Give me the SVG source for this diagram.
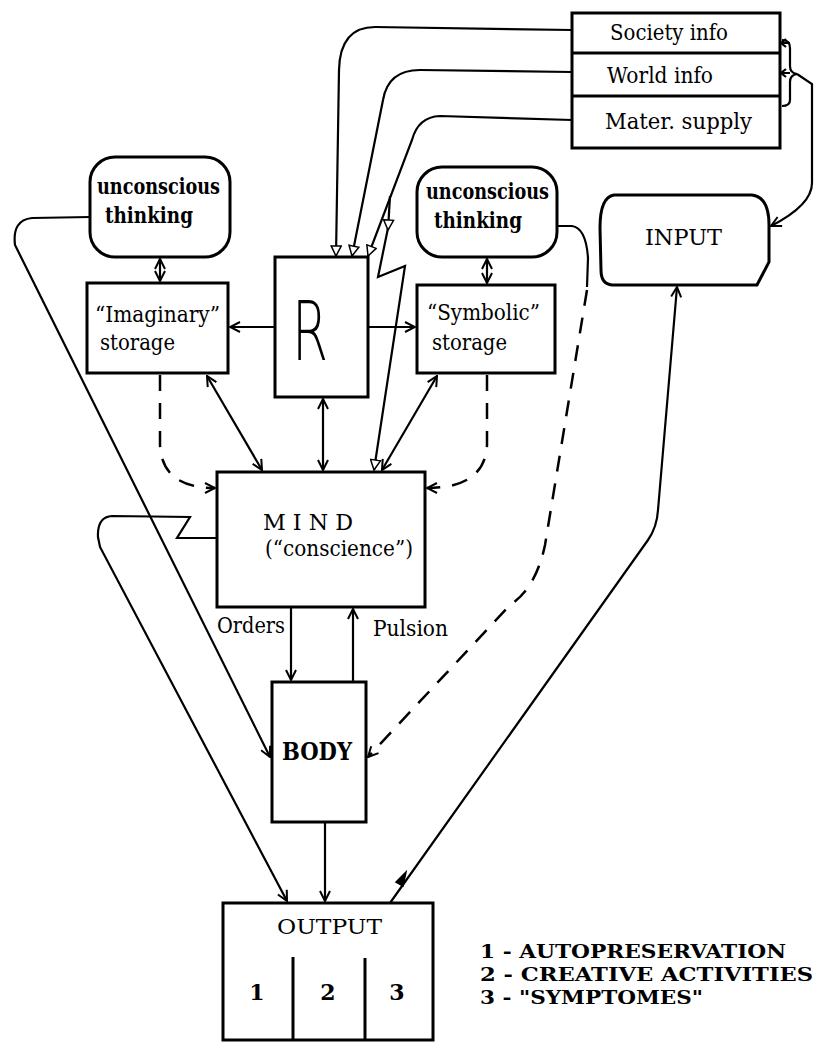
<svg xmlns="http://www.w3.org/2000/svg" width="815" height="1043" viewBox="0 0 815 1043">
<style>
.box{fill:none;stroke:#000;stroke-width:3}
.ln{fill:none;stroke:#000;stroke-width:2.2}
.dash{fill:none;stroke:#000;stroke-width:2.5;stroke-dasharray:16 12}
.t{font-family:"DejaVu Serif","Liberation Serif",serif;font-size:22px;fill:#000}
.b{font-weight:bold}
.c{text-anchor:middle}
</style>
<defs>
<marker id="v" viewBox="0 0 12 12" refX="11" refY="6" markerWidth="12" markerHeight="12" markerUnits="userSpaceOnUse" orient="auto-start-reverse">
<path d="M1,1 L11,6 L1,11" fill="none" stroke="#000" stroke-width="2"/>
</marker>
<marker id="tri" viewBox="0 0 12 12" refX="11" refY="6" markerWidth="12" markerHeight="12" markerUnits="userSpaceOnUse" orient="auto">
<path d="M1,1 L11,6 L1,11 Z" fill="#fff" stroke="#000" stroke-width="1.5"/>
</marker>
</defs>
<rect width="815" height="1043" fill="#fff"/>

<g id="connectors">
<path class="ln" d="M572,30 L375,27 Q340,27 339,70 L336,256" marker-end="url(#tri)"/>
<path class="ln" d="M572,72 L420,70 Q388,70 383,100 L352,256" marker-end="url(#tri)"/>
<path class="ln" d="M572,120 L440,116 Q418,117 412,140 L368,256" marker-end="url(#tri)"/>
<path class="ln" d="M390,196 L388,230" marker-end="url(#tri)"/>
<path class="ln" d="M388,228 L378,277 L405,266 L374,470" marker-end="url(#tri)"/>
<path class="ln" d="M782,40 Q790,40 790,48 L790,66 Q790,73 797,74 Q790,75 790,82 L790,100 Q790,106 782,106"/>
<path class="ln" d="M790,43 L782,43 M786,39 L781,43 L786,47 M790,73 L782,73 M786,69 L781,73 L786,77"/>
<path class="ln" d="M797,74 L812,84 L812,183 Q812,205 771,226" marker-end="url(#v)"/>
<path class="ln" d="M160,259 L160,281" marker-start="url(#v)" marker-end="url(#v)"/>
<path class="ln" d="M487,259 L487,283" marker-start="url(#v)" marker-end="url(#v)"/>
<path class="ln" d="M275,327 L230,327" marker-end="url(#v)"/>
<path class="ln" d="M368,327 L415,327" marker-end="url(#v)"/>
<path class="ln" d="M207,376 L262,470" marker-start="url(#v)" marker-end="url(#v)"/>
<path class="ln" d="M323,399 L323,470" marker-start="url(#v)" marker-end="url(#v)"/>
<path class="ln" d="M437,376 L382,470" marker-start="url(#v)" marker-end="url(#v)"/>
<path class="dash" d="M160,375 L160,445 Q162,488 215,488" marker-end="url(#v)"/>
<path class="dash" d="M487,375 L487,445 Q485,488 427,488" marker-end="url(#v)"/>
<path class="ln" d="M90,217 L32,218 Q12,220 15,245 L270,757" marker-end="url(#v)"/>
<path class="ln" d="M217,538 L177,538 L190,517 L112,516 Q97,517 98,537 L100,547 L287,901" marker-end="url(#v)"/>
<path class="ln" d="M557,226 L572,226 Q586,228 588,258 L587,287"/>
<path class="dash" d="M587,290 L545,545 Q536,588 510,605 L368,757" marker-end="url(#v)"/>
<path class="ln" d="M291,607 L291,680" marker-end="url(#v)"/>
<path class="ln" d="M353,682 L353,609" marker-end="url(#v)"/>
<path class="ln" d="M325,822 L325,901" marker-end="url(#v)"/>
<path class="ln" d="M390,903 L648,540 Q657,527 658,510 L677,287" marker-end="url(#v)"/>
<polygon points="406,872 396,882 403,886" fill="#000" stroke="#000" stroke-width="1.5"/>
</g>

<g id="society">
<rect class="box" x="572" y="13" width="208" height="135"/>
<line class="box" x1="572" y1="53" x2="780" y2="53"/>
<line class="box" x1="572" y1="96" x2="780" y2="96"/>
<text class="t" x="610" y="40" textLength="118" lengthAdjust="spacingAndGlyphs">Society info</text>
<text class="t" x="607" y="83" textLength="106" lengthAdjust="spacingAndGlyphs">World info</text>
<text class="t" x="605" y="129" textLength="147" lengthAdjust="spacingAndGlyphs">Mater. supply</text>
</g>

<g id="input">
<path class="box" d="M614,195 L752,195 Q769,197 769,225 L769,262 L757,285 L612,285 Q601,284 601,270 L600,228 Q600,197 614,195 Z"/>
<text class="t" x="645" y="245" textLength="77" lengthAdjust="spacingAndGlyphs">INPUT</text>
</g>

<g id="unconscious-left">
<rect class="box" x="90" y="157" width="140" height="100" rx="25"/>
<text class="t b" x="97" y="194" textLength="123" lengthAdjust="spacingAndGlyphs">unconscious</text>
<text class="t b" x="105" y="223" textLength="88" lengthAdjust="spacingAndGlyphs">thinking</text>
</g>

<g id="unconscious-right">
<rect class="box" x="417" y="167" width="140" height="90" rx="25"/>
<text class="t b" x="426" y="199" textLength="123" lengthAdjust="spacingAndGlyphs">unconscious</text>
<text class="t b" x="434" y="228" textLength="88" lengthAdjust="spacingAndGlyphs">thinking</text>
</g>

<g id="imaginary">
<rect class="box" x="87" y="283" width="141" height="90"/>
<text class="t" x="95" y="322" textLength="125" lengthAdjust="spacingAndGlyphs">“Imaginary”</text>
<text class="t" x="100" y="350" textLength="75" lengthAdjust="spacingAndGlyphs">storage</text>
</g>

<g id="R">
<rect class="box" x="275" y="257" width="93" height="140"/>
<text x="292" y="360" font-family="DejaVu Sans, sans-serif" font-size="82" font-weight="200" textLength="36" lengthAdjust="spacingAndGlyphs">R</text>
</g>

<g id="symbolic">
<rect class="box" x="417" y="285" width="138" height="88"/>
<text class="t" x="427" y="320" textLength="113" lengthAdjust="spacingAndGlyphs">“Symbolic”</text>
<text class="t" x="432" y="350" textLength="75" lengthAdjust="spacingAndGlyphs">storage</text>
</g>

<g id="mind">
<rect class="box" x="217" y="472" width="208" height="135"/>
<text class="t" x="263" y="530" textLength="90" lengthAdjust="spacingAndGlyphs">M I N D</text>
<text class="t" x="265" y="556" textLength="148" lengthAdjust="spacingAndGlyphs">(“conscience”)</text>
<text class="t" x="217" y="633" textLength="68" lengthAdjust="spacingAndGlyphs">Orders</text>
<text class="t" x="373" y="636" textLength="75" lengthAdjust="spacingAndGlyphs">Pulsion</text>
</g>

<g id="body">
<rect class="box" x="272" y="682" width="94" height="140"/>
<text class="t b" x="282" y="760" style="font-size:24px" textLength="70" lengthAdjust="spacingAndGlyphs">BODY</text>
</g>

<g id="output">
<rect class="box" x="223" y="903" width="210" height="137"/>
<line class="box" x1="293" y1="957" x2="293" y2="1040"/>
<line class="box" x1="365" y1="958" x2="365" y2="1040"/>
<text class="t" x="277" y="934" style="font-size:20px" textLength="105" lengthAdjust="spacingAndGlyphs">OUTPUT</text>
<text class="t b c" x="257" y="1000">1</text>
<text class="t b c" x="328" y="1000">2</text>
<text class="t b c" x="397" y="1000">3</text>
</g>

<g id="legend">
<text class="t b" x="480" y="958" style="font-size:19px" textLength="306" lengthAdjust="spacingAndGlyphs">1 - AUTOPRESERVATION</text>
<text class="t b" x="480" y="981" style="font-size:19px" textLength="333" lengthAdjust="spacingAndGlyphs">2 - CREATIVE ACTIVITIES</text>
<text class="t b" x="480" y="1004" style="font-size:19px" textLength="223" lengthAdjust="spacingAndGlyphs">3 - "SYMPTOMES"</text>
</g>
</svg>
